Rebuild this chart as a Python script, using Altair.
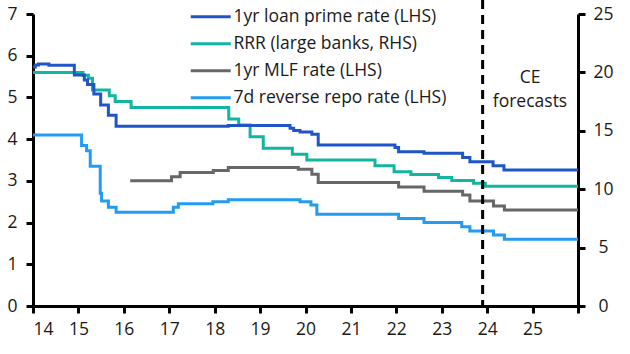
import altair as alt
import pandas as pd

series_names = ["1yr loan prime rate (LHS)", "RRR (large banks, RHS)",
                "1yr MLF rate (LHS)", "7d reverse repo rate (LHS)"]
series_colors = ["#1F55C9", "#12B5A0", "#676767", "#229CF2"]

# year (decimal, 14 = 2014) where each value starts; last point closes the step
lpr_x = [14.0, 14.05, 14.12, 14.35, 14.91, 15.13, 15.2, 15.34, 15.49, 15.66, 15.83,
         18.3, 19.66, 19.74, 19.88, 20.14, 20.28, 21.97, 22.05, 22.61, 23.46, 23.62,
         24.13, 24.37, 26.0]
lpr_y = [5.73, 5.78, 5.80, 5.77, 5.54, 5.42, 5.31, 5.08, 4.82, 4.57, 4.31,
         4.33, 4.26, 4.21, 4.17, 4.12, 3.86, 3.80, 3.70, 3.66, 3.56, 3.46,
         3.36, 3.26, 3.26]

rrr_x = [14.0, 15.1, 15.22, 15.31, 15.68, 15.81, 16.16, 18.31, 18.53, 18.78, 19.07,
         19.71, 20.03, 21.53, 21.95, 22.32, 22.93, 23.22, 23.7, 23.96, 26.0]
rrr_y = [20.0, 19.75, 19.5, 18.5, 18.0, 17.5, 17.0, 16.0, 15.5, 14.5, 13.5,
         13.0, 12.5, 12.0, 11.5, 11.25, 11.0, 10.75, 10.5, 10.25, 10.25]

mlf_x = [16.14, 17.05, 17.24, 17.97, 18.3, 19.84, 20.14, 20.28, 22.05, 22.61,
         23.46, 23.62, 24.14, 24.38, 26.0]
mlf_y = [3.00, 3.10, 3.20, 3.25, 3.32, 3.28, 3.16, 2.96, 2.85, 2.75,
         2.66, 2.52, 2.40, 2.30, 2.30]

rr_x = [14.0, 15.07, 15.18, 15.26, 15.48, 15.51, 15.66, 15.83, 17.09, 17.2, 17.96,
        18.3, 19.88, 20.12, 20.25, 22.05, 22.61, 23.44, 23.62, 24.14, 24.38, 26.0]
rr_y = [4.10, 3.85, 3.72, 3.35, 2.70, 2.52, 2.37, 2.25, 2.37, 2.45, 2.50,
        2.55, 2.50, 2.42, 2.20, 2.10, 2.00, 1.90, 1.80, 1.70, 1.60, 1.60]

forecast_start = [23.9]
forecast_label = ["CE\nforecasts"]

x_ticks = list(range(14, 27))
left_ticks = list(range(0, 8))
right_ticks = [0, 5, 10, 15, 20, 25]

FONT = "Open Sans"
FS = 17.5
TXT = "#1a1a1a"

def frame(xs, ys, name):
    return pd.DataFrame({"year": xs, "value": ys, "series": name})

df_left = pd.concat([
    frame(lpr_x, lpr_y, series_names[0]),
    frame(mlf_x, mlf_y, series_names[2]),
    frame(rr_x, rr_y, series_names[3]),
])
df_right = frame(rrr_x, rrr_y, series_names[1])

x_enc = alt.X("year:Q", scale=alt.Scale(domain=[14, 26], nice=False, zero=False),
              axis=alt.Axis(values=x_ticks, labelExpr="datum.value < 26 ? datum.value : ''",
                            title=None, labelPadding=7, grid=False))

color_enc = alt.Color("series:N",
                      scale=alt.Scale(domain=series_names, range=series_colors),
                      legend=alt.Legend(orient="none", legendX=169, legendY=-6, title=None,
                                        symbolType="M-4,0H4", symbolSize=100,
                                        symbolStrokeWidth=3, labelFont=FONT,
                                        labelFontSize=FS, labelColor=TXT, labelLimit=400,
                                        labelOffset=14, rowPadding=8, padding=0))

left = alt.Chart(df_left).mark_line(interpolate="step-after", strokeWidth=3).encode(
    x=x_enc,
    y=alt.Y("value:Q", scale=alt.Scale(domain=[0, 7], nice=False),
            axis=alt.Axis(orient="left", values=left_ticks, title=None, labelPadding=9,
                          grid=False)),
    color=color_enc,
)

right = alt.Chart(df_right).mark_line(interpolate="step-after", strokeWidth=3).encode(
    x=alt.X("year:Q"),
    y=alt.Y("value:Q", scale=alt.Scale(domain=[0, 25], nice=False),
            axis=alt.Axis(orient="right", values=right_ticks, title=None, labelPadding=18,
                          labelAlign="center", grid=False)),
    color=color_enc,
)

rule = alt.Chart(pd.DataFrame({"year": forecast_start})).mark_rule(
    strokeDash=[9, 6], strokeWidth=3, color="black").encode(
    x=alt.X("year:Q"), y=alt.value(-14), y2=alt.value(292))

label = alt.Chart(pd.DataFrame({"t": forecast_label})).mark_text(
    lineBreak="\n", font=FONT, fontSize=FS, color=TXT, lineHeight=24,
    align="center", baseline="middle").encode(
    text="t:N", x=alt.value(497), y=alt.value(64))

chart = alt.layer(right, left, rule, label).resolve_scale(y="independent").properties(
    width=545, height=292,
    autosize=alt.AutoSizeParams(type="none"),
    padding={"left": 33, "top": 14, "right": 52, "bottom": 48},
).configure(background="white").configure_view(stroke=None).configure_axis(
    domainColor="black", domainWidth=3, tickColor="black", tickWidth=3, tickSize=7,
    labelFont=FONT, labelFontSize=FS, labelColor=TXT,
)

chart.save("out.html", embed_options={"renderer": "svg", "actions": False})
